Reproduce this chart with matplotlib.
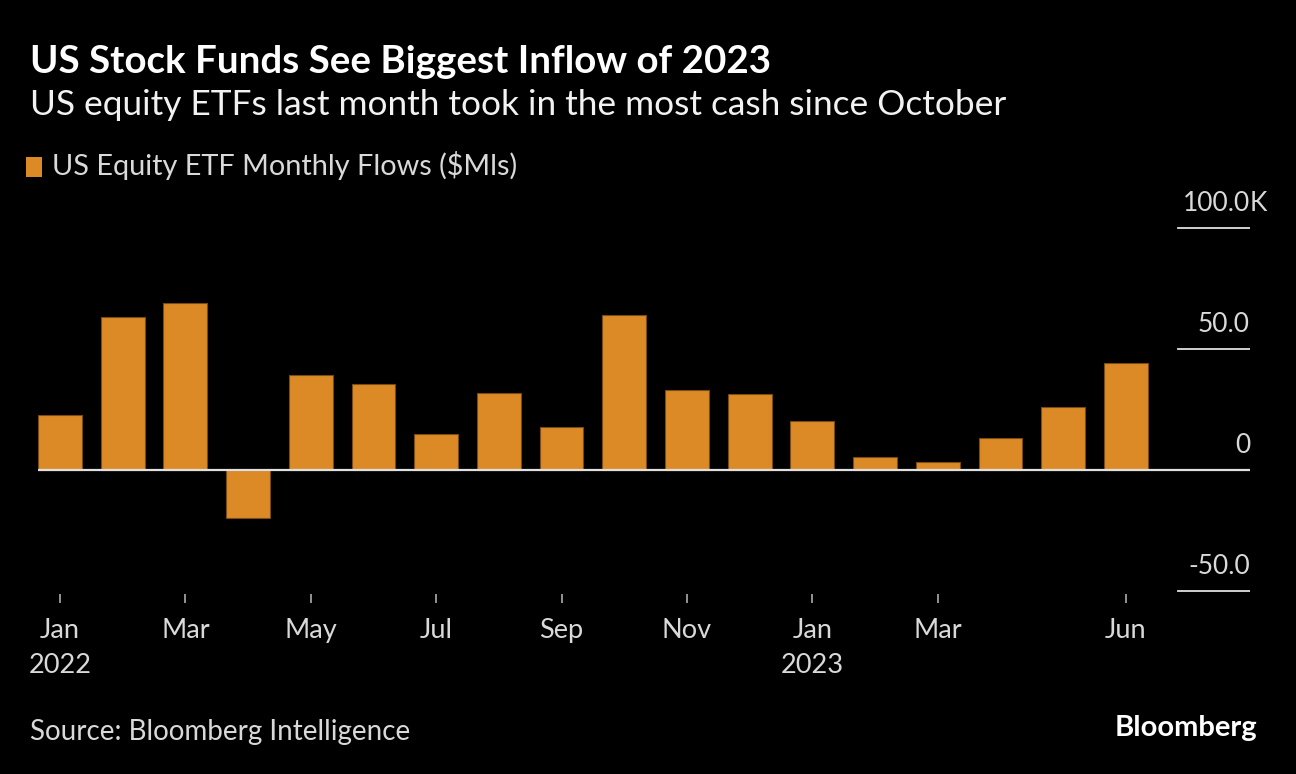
import matplotlib
matplotlib.use("Agg")
import matplotlib.pyplot as plt
import matplotlib.transforms as mtransforms

months = ["Jan 2022", "Feb 2022", "Mar 2022", "Apr 2022", "May 2022", "Jun 2022",
          "Jul 2022", "Aug 2022", "Sep 2022", "Oct 2022", "Nov 2022", "Dec 2022",
          "Jan 2023", "Feb 2023", "Mar 2023", "Apr 2023", "May 2023", "Jun 2023"]
flows = [22.7, 63.2, 69.0, -19.7, 39.3, 35.5, 14.9, 31.8, 17.8,
         64.0, 33.1, 31.3, 20.1, 5.2, 3.4, 13.1, 26.0, 44.1]
tick_idx = [0, 2, 4, 6, 8, 10, 12, 14, 17]
tick_labels = ["Jan\n2022", "Mar", "May", "Jul", "Sep", "Nov", "Jan\n2023", "Mar", "Jun"]
y_grid = [100, 50, 0, -50]
y_labels = ["100.0", "50.0", "0", "-50.0"]

title = "US Stock Funds See Biggest Inflow of 2023"
subtitle = "US equity ETFs last month took in the most cash since October"
legend_label = "US Equity ETF Monthly Flows ($Mls)"
source = "Source: Bloomberg Intelligence"

BG = "#000000"
BAR = "#dc8a26"
EDGE = "#7a4c14"
TXT = "#d9d9d9"
GRID = "#e0e0e0"
FONT = "Lato"

W, H = 1296, 774
fig = plt.figure(figsize=(W / 100, H / 100), dpi=100, facecolor=BG)

ppu = 2.42
zero_px = 470
ylo, yhi = -51.2, 101
top_px = zero_px - yhi * ppu
bot_px = zero_px - ylo * ppu
left_px, right_px = 38, 1250
ax = fig.add_axes([left_px / W, 1 - bot_px / H, (right_px - left_px) / W, (bot_px - top_px) / H])
ax.set_facecolor(BG)

ax.bar(range(len(flows)), flows, width=0.7, color=BAR, edgecolor=EDGE, linewidth=0.8, zorder=2)

spacing = 62.7
xlo = -0.35
xhi = xlo + (right_px - left_px) / spacing
ax.set_xlim(xlo, xhi)
ax.set_ylim(ylo, yhi)

grid_start = (1178 - left_px) / (right_px - left_px)
for v, lab in zip(y_grid, y_labels):
    if v == 0:
        ax.axhline(v, color=GRID, lw=1.6, zorder=3)
    else:
        ax.axhline(v, xmin=grid_start, xmax=1, color=GRID, lw=1.3, zorder=1)
    off = ax.get_yaxis_transform() + mtransforms.ScaledTranslation(0, 17 / 100, fig.dpi_scale_trans)
    ax.text(1.0, v, lab, transform=off, ha="right", va="baseline",
            color=TXT, fontsize=19, family=FONT)
    if v == 100:
        ax.text(1.0, v, "K", transform=off, ha="left", va="baseline", color=TXT,
                fontsize=19, family=FONT)

for s in ax.spines.values():
    s.set_visible(False)
ax.set_yticks([])
ax.set_xticks(tick_idx)
ax.set_xticklabels(tick_labels, fontsize=19.5, family=FONT, color=TXT, linespacing=1.5)
ax.tick_params(axis="x", length=6.5, width=1.1, color="#bbbbbb", pad=11, direction="out")

fig.text(30 / W, 1 - 62 / H, title, color="white", fontsize=27.7, fontweight="bold", family=FONT,
         va="center", ha="left")
fig.text(30 / W, 1 - 105 / H, subtitle, color="#f2f2f2", fontsize=25.4, family=FONT,
         va="center", ha="left")
fig.patches.append(plt.Rectangle((26 / W, 1 - 177 / H), 16 / W, 20 / H, transform=fig.transFigure,
                                 facecolor=BAR, edgecolor="none"))
fig.text(52 / W, 1 - 166 / H, legend_label, color=TXT, fontsize=20.8, family=FONT,
         va="center", ha="left")
fig.text(30 / W, 1 - 732 / H, source, color=TXT, fontsize=20, family=FONT, va="center", ha="left")
fig.text(1257 / W, 1 - 728 / H, "Bloomberg", color="white", fontsize=21, fontweight="bold",
         family=FONT, va="center", ha="right")

fig.savefig("out.png", dpi=100, facecolor=BG)
